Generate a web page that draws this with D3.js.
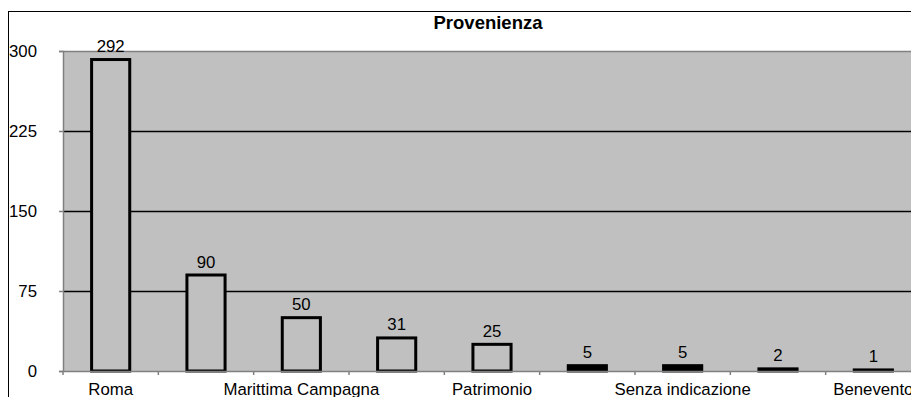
<!DOCTYPE html>
<html>
<head>
<meta charset="utf-8">
<script src="https://cdn.jsdelivr.net/npm/d3@7"></script>
<style>
  html, body { margin: 0; padding: 0; background: #fff; }
  svg { display: block; font-family: "Liberation Sans", Arial, sans-serif; }
</style>
</head>
<body>
<svg id="chart" width="911" height="397"></svg>
<script>
// Data
const categories = ["Roma", "", "Marittima Campagna", "", "Patrimonio", "", "Senza indicazione", "", "Benevento"];
const values = [292, 90, 50, 31, 25, 5, 5, 2, 1];
const yTicks = [0, 75, 150, 225, 300];
const title = "Provenienza";

const svg = d3.select("#chart");
const plot = { left: 63, top: 51, right: 921, bottom: 371 };
const FS = 16.8;

// Chart frame
svg.append("rect")
  .attr("x", 8.5).attr("y", 11.5)
  .attr("width", 1000).attr("height", 500)
  .attr("fill", "#fff").attr("stroke", "#000").attr("stroke-width", 1);

const x = d3.scaleBand()
  .domain(d3.range(categories.length))
  .range([plot.left, plot.right])
  .paddingInner(0.6).paddingOuter(0.3);

const y = d3.scaleLinear().domain([0, 300]).range([plot.bottom, plot.top]);

// Plot area background
svg.append("rect")
  .attr("x", plot.left).attr("y", plot.top)
  .attr("width", plot.right - plot.left).attr("height", plot.bottom - plot.top)
  .attr("fill", "#c0c0c0");

// Gridlines
svg.append("g").selectAll("line")
  .data(yTicks.filter(t => t > 0 && t < 300))
  .join("line")
  .attr("x1", plot.left).attr("x2", plot.right)
  .attr("y1", d => Math.round(y(d)) + 0.5).attr("y2", d => Math.round(y(d)) + 0.5)
  .attr("stroke", "#000").attr("stroke-width", 1.3);

// Top border of plot
svg.append("line")
  .attr("x1", plot.left).attr("x2", plot.right)
  .attr("y1", y(300) + 0.5).attr("y2", y(300) + 0.5)
  .attr("stroke", "#808080").attr("stroke-width", 1.5);

// Bars
svg.append("g").selectAll("rect")
  .data(values)
  .join("rect")
  .attr("x", (d, i) => x(i))
  .attr("y", d => y(d))
  .attr("width", x.bandwidth())
  .attr("height", d => y(0) - y(d))
  .attr("fill", d => (y(0) - y(d) < 6 ? "#000" : "#c0c0c0"))
  .attr("stroke", "#000")
  .attr("stroke-width", 3);

// Y axis
const yAxis = d3.axisLeft(y).tickValues(yTicks).tickSize(4).tickPadding(22);
const gy = svg.append("g").attr("transform", `translate(${plot.left},0)`).call(yAxis);
gy.select(".domain").attr("stroke", "#808080").attr("stroke-width", 1.5);
gy.selectAll(".tick line").attr("stroke", "#808080").attr("stroke-width", 1.5);
gy.selectAll(".tick text").attr("font-size", FS).attr("fill", "#000")
  .attr("font-family", "Liberation Sans, Arial, sans-serif");

// X axis
const xAxis = d3.axisBottom(x).tickSize(0).tickPadding(12)
  .tickFormat(i => (i % 2 === 0 ? categories[i] : ""));
const gx = svg.append("g").attr("transform", `translate(0,${plot.bottom})`).call(xAxis);
gx.select(".domain").attr("stroke", "#808080").attr("stroke-width", 1.5);
gx.selectAll(".tick text").attr("font-size", FS).attr("fill", "#000")
  .attr("font-family", "Liberation Sans, Arial, sans-serif");

// Category boundary ticks
svg.append("g").selectAll("line")
  .data(d3.range(categories.length + 1))
  .join("line")
  .attr("x1", i => x(0) - x.paddingOuter() * x.step() + i * x.step())
  .attr("x2", i => x(0) - x.paddingOuter() * x.step() + i * x.step())
  .attr("y1", plot.bottom).attr("y2", plot.bottom + 4)
  .attr("stroke", "#808080").attr("stroke-width", 1.5);

// Value labels
svg.append("g").selectAll("text")
  .data(values)
  .join("text")
  .attr("x", (d, i) => x(i) + x.bandwidth() / 2)
  .attr("y", d => y(d) - 7.5)
  .attr("text-anchor", "middle")
  .attr("font-size", FS)
  .attr("fill", "#000")
  .text(d => d);

// Title
svg.append("text")
  .attr("x", 488).attr("y", 28.5)
  .attr("text-anchor", "middle")
  .attr("font-size", 18.5).attr("font-weight", "bold")
  .attr("fill", "#000")
  .text(title);
</script>
</body>
</html>
